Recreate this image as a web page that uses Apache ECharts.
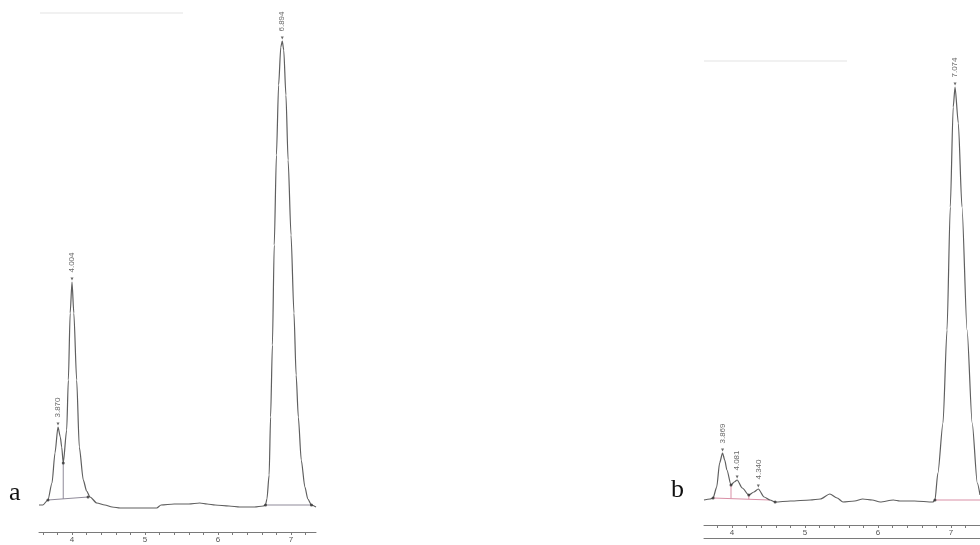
<!DOCTYPE html>
<html>
<head>
<meta charset="utf-8">
<script src="https://cdn.jsdelivr.net/npm/echarts@6/dist/echarts.min.js"></script>
<style>html,body{margin:0;padding:0;background:#fff;}#c{width:980px;height:545px;}</style>
</head>
<body>
<div id="c"></div>
<script>
// ---------- Panel a data (time in min, signal relative to baseline) ----------
const timeA = [3.548,3.60,3.67,3.726,3.767,3.808,3.84,3.859,3.88,3.927,3.95,3.975,4.00,4.025,4.064,4.10,4.155,4.20,4.247,4.34,4.45,4.55,4.66,4.90,5.16,5.22,5.40,5.60,5.75,5.85,5.96,6.15,6.30,6.50,6.62,6.65,6.67,6.70,6.72,6.745,6.77,6.80,6.83,6.86,6.88,6.90,6.93,6.96,7.00,7.04,7.07,7.10,7.14,7.19,7.23,7.28,7.342];
const signalA = [0,0,5,22,52,78,68,58,42,75,125,192,223,192,125,58,25,14,8,2,0,-2,-3,-3,-3,0,1,1,2,1,0,-1,-2,-2,-1,0,6,30,88,160,260,350,420,458,464,455,410,345,270,192,130,88,45,18,6,0,-2];
const peakTimesA = [3.808,4.00,6.88];
const peakHeightsA = [78,223,464];
const peakLabelsA = ['3.870','4.004','6.894'];
const intBaseA = [[3.67,5],[4.22,8]];
const dropA = [[3.88,6],[3.88,42]];
const intBaseA2 = [[6.65,0],[7.28,0]];
const markersA = [[3.67,5],[3.88,42],[4.22,8],[6.65,0],[7.28,0]];
const tickLabelsA = [4,5,6,7];
const minorTicksA = [3.6,3.8,4.0,4.2,4.4,4.6,4.8,5.0,5.2,5.4,5.6,5.8,6.0,6.2,6.4,6.6,6.8,7.0,7.2];

// ---------- Panel b data ----------
const timeB = [3.616,3.70,3.74,3.79,3.83,3.87,3.90,3.93,3.986,4.03,4.07,4.14,4.23,4.30,4.36,4.44,4.52,4.59,4.80,5.07,5.21,5.34,5.44,5.52,5.68,5.79,5.92,6.03,6.21,6.30,6.50,6.75,6.78,6.82,6.89,6.945,6.99,7.03,7.055,7.10,7.15,7.22,7.29,7.36,7.397];
const signalB = [0,1,2,13,37,47,40,30,15,18,20,12,5,8,11,3,0,-2,-1,0,1,6,2,-2,-1,1,0,-2,0,-1,-1,-2,0,27,77,170,293,393,413,377,293,170,77,17,5];
const peakTimesB = [3.87,4.07,4.36,7.055];
const peakHeightsB = [47,20,11,413];
const peakLabelsB = ['3.869','4.081','4.340','7.074'];
const intBaseB = [[3.74,2],[4.52,0]];
const dropB1 = [[3.986,1.5],[3.986,15]];
const dropB2 = [[4.23,1],[4.23,5]];
const intBaseB2 = [[6.78,0],[7.397,0]];
const markersB = [[3.74,2],[3.986,15],[4.23,5],[4.59,-2],[6.78,0]];
const tickLabelsB = [4,5,6,7];
const minorTicksB = [3.8,4.0,4.2,4.4,4.6,4.8,5.0,5.2,5.4,5.6,5.8,6.0,6.2,6.4,6.6,6.8,7.0,7.2];

const zip = (xs, ys) => xs.map((x, i) => [x, ys[i]]);
const lineColor = '#5f5f5f';
const axisColor = '#7a7a7a';

function xAxisCfg(grid, min, max, offset, ticks, labels, showLabels) {
  return {
    type: 'value', gridIndex: grid, min: min, max: max, position: 'bottom', offset: offset,
    splitLine: {show: false},
    axisLine: {show: true, onZero: false, lineStyle: {color: axisColor, width: 1}},
    axisTick: {show: showLabels, length: 3, customValues: ticks, lineStyle: {color: axisColor}},
    axisLabel: {show: showLabels, customValues: labels, fontSize: 8, color: '#555', margin: 4,
                fontFamily: 'Liberation Sans, Arial, sans-serif'}
  };
}
function yAxisCfg(grid) {
  return {type: 'value', gridIndex: grid, min: -10, max: 470, show: false, splitLine: {show: false}};
}
function sig(name, x, y, data) {
  return {name: name, type: 'line', xAxisIndex: x, yAxisIndex: y, data: data, symbol: 'none',
          smooth: 0.25, smoothMonotone: 'x', lineStyle: {color: lineColor, width: 1.2}, silent: true, z: 3};
}
function seg(x, y, data, color) {
  return {type: 'line', xAxisIndex: x, yAxisIndex: y, data: data, symbol: 'none',
          lineStyle: {color: color, width: 1}, silent: true, z: 2};
}
function dots(x, y, data) {
  return {type: 'scatter', xAxisIndex: x, yAxisIndex: y, data: data, symbol: 'circle',
          symbolSize: 3, itemStyle: {color: '#333'}, silent: true, z: 4};
}
function peaks(x, y, times, heights, labels) {
  return {type: 'scatter', xAxisIndex: x, yAxisIndex: y,
    data: times.map((t, i) => ({value: [t, heights[i]], name: labels[i]})),
    symbol: 'triangle', symbolRotate: 180, symbolSize: [3, 3], symbolOffset: [0, -3],
    itemStyle: {color: '#444'}, silent: true, z: 5,
    label: {show: true, formatter: p => p.name, position: 'top', distance: 5, rotate: 90,
            align: 'left', verticalAlign: 'middle', fontSize: 8, color: '#444',
            fontFamily: 'Liberation Sans, Arial, sans-serif'}};
}

const chart = echarts.init(document.getElementById('c'), null, {renderer: 'canvas'});
chart.setOption({
  backgroundColor: '#ffffff',
  animation: false,
  grid: [
    {left: 39, right: 664, top: 35, bottom: 30},
    {left: 704, right: 0, top: 30, bottom: 35}
  ],
  xAxis: [
    xAxisCfg(0, 3.548, 7.342, 17, minorTicksA, tickLabelsA, true),
    xAxisCfg(1, 3.616, 7.397, 15, minorTicksB, tickLabelsB, true),
    xAxisCfg(1, 3.616, 7.397, 28, [], [], false)
  ],
  yAxis: [yAxisCfg(0), yAxisCfg(1)],
  graphic: [
    {type: 'text', left: 9, top: 480, style: {text: 'a', font: '26px "Liberation Serif", "Times New Roman", serif', fill: '#111'}},
    {type: 'text', left: 671, top: 477, style: {text: 'b', font: '26px "Liberation Serif", "Times New Roman", serif', fill: '#111'}},
    {type: 'line', shape: {x1: 40, y1: 13, x2: 183, y2: 13}, style: {stroke: '#f1f1f1', lineWidth: 2}},
    {type: 'line', shape: {x1: 704, y1: 61, x2: 847, y2: 61}, style: {stroke: '#f1f1f1', lineWidth: 2}}
  ],
  series: [
    seg(0, 0, intBaseA, '#8f8a99'),
    seg(0, 0, dropA, '#8f8a99'),
    seg(0, 0, intBaseA2, '#8f8a99'),
    sig('a', 0, 0, zip(timeA, signalA)),
    dots(0, 0, markersA),
    peaks(0, 0, peakTimesA, peakHeightsA, peakLabelsA),
    seg(1, 1, intBaseB, '#d98fa6'),
    seg(1, 1, dropB1, '#d98fa6'),
    seg(1, 1, dropB2, '#d98fa6'),
    seg(1, 1, intBaseB2, '#d98fa6'),
    sig('b', 1, 1, zip(timeB, signalB)),
    dots(1, 1, markersB),
    peaks(1, 1, peakTimesB, peakHeightsB, peakLabelsB)
  ]
});
</script>
</body>
</html>
